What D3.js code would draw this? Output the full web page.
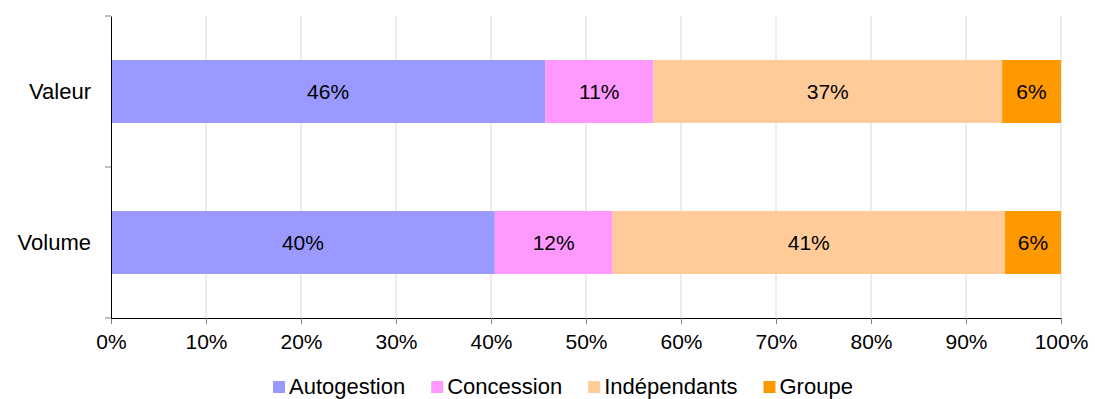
<!DOCTYPE html>
<html lang="fr">
<head>
    <meta charset="UTF-8">
    <title>Répartition Valeur / Volume</title>
    <script src="https://d3js.org/d3.v7.min.js"></script>
    <style>
        body { margin: 0; background: #fff; }
        text { font-family: "Liberation Sans", Arial, sans-serif; fill: #000; }
    </style>
</head>
<body>
    <svg id="chart"></svg>
    <script>
        const categories = ["Valeur", "Volume"];
        const seriesNames = ["Autogestion", "Concession", "Indépendants", "Groupe"];
        const autogestion = [45.7, 40.4];
        const concession = [11.4, 12.4];
        const independants = [36.7, 41.3];
        const groupe = [6.2, 5.9];
        const xTicks = [0, 10, 20, 30, 40, 50, 60, 70, 80, 90, 100];
        const colors = ["#9999ff", "#ff99ff", "#ffcc99", "#ff9900"];

        const width = 1095, height = 399;
        const margin = {top: 16, right: 34, bottom: 81, left: 111};

        const svg = d3.select("#chart").attr("width", width).attr("height", height);

        const rows = categories.map((c, i) => ({
            cat: c,
            Autogestion: autogestion[i],
            Concession: concession[i],
            "Indépendants": independants[i],
            Groupe: groupe[i]
        }));
        const stacked = d3.stack().keys(seriesNames)(rows);

        const x = d3.scaleLinear().domain([0, 100]).range([margin.left, width - margin.right]);
        const y = d3.scaleBand().domain(categories).range([margin.top, height - margin.bottom])
            .paddingInner(0.583).paddingOuter(0.2915);

        // gridlines
        svg.append("g").selectAll("line").data(xTicks.slice(1)).join("line")
            .attr("x1", d => x(d)).attr("x2", d => x(d))
            .attr("y1", margin.top).attr("y2", height - margin.bottom)
            .attr("stroke", "#d9d9d9").attr("stroke-width", 1);

        // bars
        const color = d3.scaleOrdinal().domain(seriesNames).range(colors);
        const layers = svg.append("g").selectAll("g").data(stacked).join("g")
            .attr("fill", d => color(d.key));
        layers.selectAll("rect").data(d => d).join("rect")
            .attr("x", d => x(d[0]))
            .attr("width", d => x(d[1]) - x(d[0]))
            .attr("y", d => y(d.data.cat))
            .attr("height", y.bandwidth());

        // value labels
        layers.selectAll("text").data(d => d).join("text")
            .attr("x", d => (x(d[0]) + x(d[1])) / 2)
            .attr("y", d => y(d.data.cat) + y.bandwidth() / 2)
            .attr("dy", "0.35em")
            .attr("text-anchor", "middle")
            .attr("font-size", 21)
            .text(d => Math.round(d[1] - d[0]) + "%");

        // x axis
        const xAxis = svg.append("g")
            .attr("transform", `translate(0,${height - margin.bottom})`)
            .call(d3.axisBottom(x).tickValues(xTicks).tickFormat(d => d + "%").tickSizeOuter(0).tickSize(6));
        xAxis.select(".domain").attr("stroke", "#000");
        xAxis.selectAll(".tick line").attr("stroke", "#808080");
        xAxis.selectAll(".tick text").attr("font-size", 21).attr("dy", "1.05em")
            .style("font-family", "'Liberation Sans', Arial, sans-serif");

        // y axis
        const yAxis = svg.append("g")
            .attr("transform", `translate(${margin.left},0)`)
            .call(d3.axisLeft(y).tickSize(0).tickPadding(20));
        yAxis.select(".domain").attr("stroke", "#000");
        yAxis.selectAll(".tick text").attr("font-size", 22)
            .style("font-family", "'Liberation Sans', Arial, sans-serif");
        const bounds = [margin.top, margin.top + y.step(), height - margin.bottom];
        svg.append("g").selectAll("line").data(bounds).join("line")
            .attr("x1", margin.left - 6).attr("x2", margin.left)
            .attr("y1", d => d).attr("y2", d => d)
            .attr("stroke", "#808080");

        // legend
        const legend = svg.append("g").attr("transform", "translate(273,386)");
        let lx = 0;
        seriesNames.forEach((name, i) => {
            const g = legend.append("g").attr("transform", `translate(${lx},0)`);
            g.append("rect").attr("x", 0).attr("y", -5).attr("width", 12).attr("height", 12)
                .attr("fill", colors[i]);
            const t = g.append("text").attr("x", 16).attr("y", 0).attr("dy", "0.35em")
                .attr("font-size", 22).text(name);
            lx += 16 + t.node().getComputedTextLength() + 26;
        });
    </script>
</body>
</html>
